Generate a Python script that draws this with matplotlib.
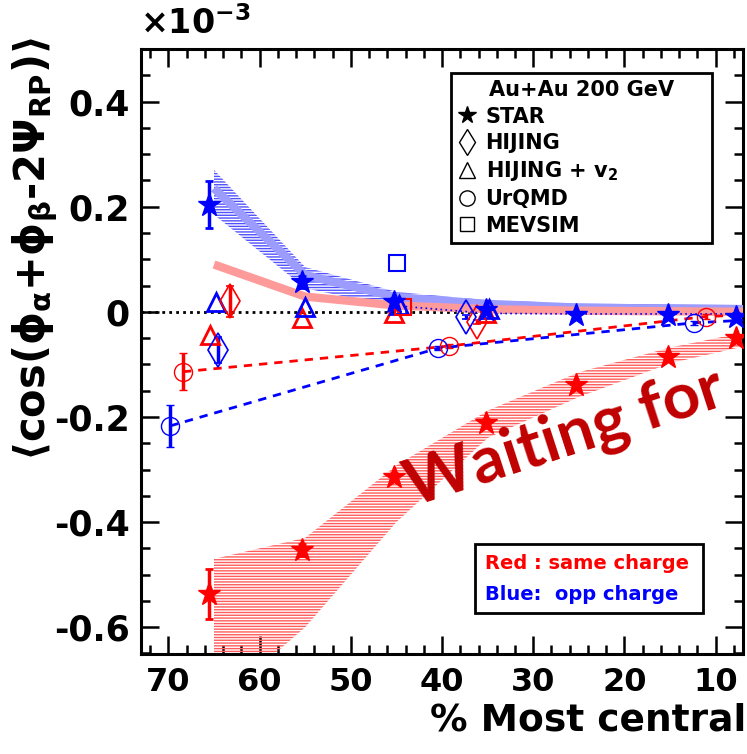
import numpy as np
import matplotlib.pyplot as plt
from matplotlib.lines import Line2D
from matplotlib.ticker import MultipleLocator, FuncFormatter

plt.rcParams['font.family'] = 'DejaVu Sans'
plt.rcParams['font.weight'] = 'bold'
plt.rcParams['axes.unicode_minus'] = False
plt.rcParams['mathtext.fontset'] = 'dejavusans'
plt.rcParams['mathtext.default'] = 'bf'
plt.rcParams['hatch.linewidth'] = 1.0

# values in units of 1e-3
# STAR data (same charge = red, opp charge = blue)
star_x = [65.5, 55.3, 45.3, 35.2, 25.3, 15.2, 7.8]
star_same = [-0.537, -0.453, -0.314, -0.212, -0.139, -0.086, -0.050]
star_same_err = [0.048, 0.012, 0.008, 0.008, 0.006, 0.006, 0.006]
star_opp = [0.204, 0.057, 0.019, 0.004, -0.006, -0.006, -0.009]
star_opp_err = [0.044, 0.012, 0.008, 0.006, 0.006, 0.006, 0.006]

# systematic bands
band_x = [65.0, 55.0, 45.0, 35.0, 25.0, 15.0, 6.5]
band_same_hi = [-0.470, -0.430, -0.292, -0.188, -0.115, -0.068, -0.038]
band_same_lo = [-0.750, -0.600, -0.400, -0.240, -0.162, -0.098, -0.064]
band_opp_hi = [0.270, 0.085, 0.038, 0.022, 0.016, 0.014, 0.013]
band_opp_lo = [0.185, 0.045, 0.008, 0.000, -0.002, -0.002, -0.002]

# thick light curves
curve_x = [65.0, 55.0, 45.0, 35.0, 25.0, 15.0, 6.5]
curve_opp = [0.235, 0.070, 0.028, 0.015, 0.008, 0.006, 0.005]
curve_same = [0.090, 0.029, 0.012, 0.005, 0.002, 0.001, 0.000]

# HIJING (diamonds)
hij_same_x = [63.3, 36.2]
hij_same = [0.020, -0.019]
hij_same_err = [0.030, 0.004]
hij_opp_x = [64.6, 37.4]
hij_opp = [-0.072, -0.010]
hij_opp_err = [0.025, 0.004]

# HIJING + v2 (triangles)
hv2_same_x = [65.4, 55.3, 45.3, 35.2]
hv2_same = [-0.044, -0.012, -0.003, -0.002]
hv2_opp_x = [64.8, 55.0, 44.7, 34.8]
hv2_opp = [0.019, 0.010, 0.013, 0.006]

# UrQMD (circles)
urq_same_x = [68.4, 39.2, 11.1, 7.0]
urq_same = [-0.114, -0.065, -0.009, -0.006]
urq_same_err = [0.035, 0.004, 0.004, 0.0]
urq_opp_x = [69.8, 40.4, 12.4, 7.0]
urq_opp = [-0.217, -0.069, -0.021, -0.016]
urq_opp_err = [0.040, 0.004, 0.004, 0.0]

# MEVSIM (squares)
mev_same_x = [44.3]
mev_same = [0.010]
mev_opp_x = [44.9]
mev_opp = [0.093]
mev_dot_x = [44.0, 35.0, 25.0, 7.0]
mev_dot = [0.010, -0.003, -0.004, -0.004]

red = '#ff0000'
blue = '#0000ff'

fig = plt.figure(figsize=(7.47, 7.54), dpi=100)
ax = fig.add_axes([0.1888, 0.1326, 0.8059, 0.8024])

ax.axhline(0, color='black', ls=(0, (1, 1.5)), lw=2, zorder=1)

ax.fill_between(band_x, band_same_lo, band_same_hi, facecolor='none',
                edgecolor='#ff5c5c', hatch='------', lw=0, zorder=2)
ax.fill_between(band_x, band_opp_lo, band_opp_hi, facecolor='none',
                edgecolor='#5050ff', hatch='------', lw=0, zorder=2)
ax.plot(curve_x, curve_opp, color='#9c9cff', lw=6, solid_capstyle='butt', zorder=3)
ax.plot(curve_x, curve_same, color='#ff9a9a', lw=6, solid_capstyle='butt', zorder=3)

# UrQMD dashed lines
ax.plot(urq_same_x, urq_same, color=red, ls=(0, (3, 2.5)), lw=2, zorder=4)
ax.plot(urq_opp_x, urq_opp, color=blue, ls=(0, (3, 2.5)), lw=2, zorder=4)
ax.plot(mev_dot_x, mev_dot, color=blue, ls=(0, (1, 2)), lw=1.2, zorder=4)

eb = dict(capsize=3, capthick=2, elinewidth=2.5, ls='none', zorder=6)
ax.errorbar(urq_same_x[:3], urq_same[:3], yerr=urq_same_err[:3], marker='o', ms=13,
            mfc='none', mec=red, mew=1, color=red, **eb)
ax.errorbar(urq_opp_x[:3], urq_opp[:3], yerr=urq_opp_err[:3], marker='o', ms=13,
            mfc='none', mec=blue, mew=1, color=blue, **eb)
ax.errorbar(hij_same_x, hij_same, yerr=hij_same_err, marker='d', ms=17,
            mfc='none', mec=red, mew=1.2, color=red, **eb)
ax.errorbar(hij_opp_x, hij_opp, yerr=hij_opp_err, marker='d', ms=17,
            mfc='none', mec=blue, mew=1.2, color=blue, **eb)
ax.plot(hv2_same_x, hv2_same, ls='none', marker='^', ms=13, mfc='none', mec=red, mew=2, zorder=6)
ax.plot(hv2_opp_x, hv2_opp, ls='none', marker='^', ms=13, mfc='none', mec=blue, mew=2, zorder=6)
ax.plot(mev_same_x, mev_same, ls='none', marker='s', ms=11, mfc='none', mec=red, mew=1.5, zorder=6)
ax.plot(mev_opp_x, mev_opp, ls='none', marker='s', ms=11, mfc='none', mec=blue, mew=1.5, zorder=6)
ax.errorbar(star_x, star_same, yerr=star_same_err, marker='*', ms=17, color=red, **eb)
ax.errorbar(star_x, star_opp, yerr=star_opp_err, marker='*', ms=17, color=blue, **eb)

ax.set_xlim(73, 7)
ax.set_ylim(-0.651, 0.5)
ax.xaxis.set_major_locator(MultipleLocator(10))
ax.xaxis.set_minor_locator(MultipleLocator(2))
ax.yaxis.set_major_locator(MultipleLocator(0.2))
ax.yaxis.set_minor_locator(MultipleLocator(0.05))
ax.yaxis.set_major_formatter(FuncFormatter(lambda v, p: '0' if abs(v) < 1e-9 else f'{v:.1f}'))
ax.tick_params(which='both', direction='in', top=True, right=True, width=1.8, color='black')
ax.tick_params(which='major', length=13)
ax.tick_params(which='minor', length=6.5)
ax.tick_params(axis='x', labelsize=23, pad=9)
ax.tick_params(axis='y', labelsize=25, pad=8)
for s in ax.spines.values():
    s.set_linewidth(2.2)

fig.text(0.999, 0.045, '% Most central', ha='right', va='center', fontsize=27, fontweight='bold')
fig.text(0.047, 0.67, r'$\langle$cos($\phi_{\alpha}$+$\phi_{\beta}$-2$\Psi_{RP}$)$\rangle$',
         rotation=90, ha='center', va='center', fontsize=30)
fig.text(0.187, 0.945, r'$\mathregular{\times}$10$^{-3}$', ha='left', va='bottom', fontsize=24)

handles = [
    Line2D([], [], ls='none', marker='*', ms=13, color='black'),
    Line2D([], [], ls='none', marker='d', ms=13, mfc='none', mec='black', mew=1),
    Line2D([], [], ls='none', marker='^', ms=11, mfc='none', mec='black', mew=1),
    Line2D([], [], ls='none', marker='o', ms=11, mfc='none', mec='black', mew=1),
    Line2D([], [], ls='none', marker='s', ms=10, mfc='none', mec='black', mew=1),
]
labels = ['STAR', 'HIJING', r'HIJING + v$_2$', 'UrQMD', 'MEVSIM']
leg = ax.legend(handles, labels, loc='upper left', bbox_to_anchor=(0.604, 0.903, 0.349, 0),
                bbox_transform=fig.transFigure, mode='expand', fontsize=15,
                title='Au+Au 200 GeV', title_fontproperties={'weight': 'bold', 'size': 15},
                fancybox=False, framealpha=1, edgecolor='black', handlelength=0.8,
                handletextpad=0.5, labelspacing=0.3, borderpad=0.35, borderaxespad=0)
leg.get_frame().set_linewidth(2)
ax.add_artist(leg)

blank = [Line2D([], [], ls='none'), Line2D([], [], ls='none')]
leg2 = ax.legend(blank, ['Red : same charge', 'Blue:  opp charge'], loc='upper left',
                 bbox_to_anchor=(0.636, 0.278, 0.305, 0), bbox_transform=fig.transFigure,
                 mode='expand', fontsize=14, labelcolor=[red, blue], fancybox=False,
                 framealpha=1, edgecolor='black', handlelength=0, handletextpad=0,
                 labelspacing=0.6, borderpad=0.5, borderaxespad=0)
leg2.get_frame().set_linewidth(2)

fig.text(0.553, 0.328, 'Waiting for', color='#c00000', fontsize=47, fontweight='bold',
         family='Lato', rotation=18, rotation_mode='anchor', ha='left', va='baseline')

fig.savefig('out.png', dpi=100)
